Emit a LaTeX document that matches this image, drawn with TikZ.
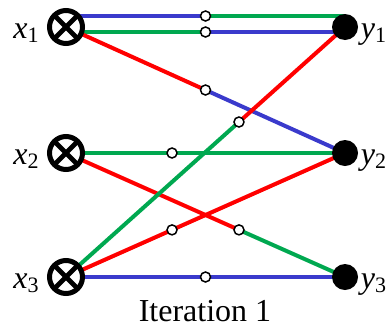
\documentclass[tikz,border=0pt]{standalone}
\usepackage{fontspec}
\setmainfont{Liberation Serif}
\usetikzlibrary{calc,backgrounds}

\definecolor{wblue}{RGB}{58,58,204}
\definecolor{wgreen}{RGB}{0,168,80}
\definecolor{wred}{RGB}{255,0,0}

\newcommand{\var}[2]{\textit{#1}\raisebox{-2pt}{\fontsize{11}{11}\selectfont #2}}

% two-coloured link: from, to, tap position, colour on each side, tap name
\newcommand{\tapedge}[6]{%
  \path (#1) -- (#2) coordinate[pos=#3] (#6);
  \begin{scope}[on background layer]
    \draw[link,#4] (#1) -- (#6);
    \draw[link,#5] (#6) -- (#2);
  \end{scope}
  \node[tap] (t#6) at (#6) {};
}

\begin{document}
\begin{tikzpicture}[x=0.5pt,y=-0.5pt,
    link/.style={line width=2pt},
    mix/.style={circle,draw,fill=white,line width=2.5pt,minimum size=16.5pt,
      inner sep=0pt,path picture={
        \draw[line width=2.4pt]
          (path picture bounding box.north west) -- (path picture bounding box.south east)
          (path picture bounding box.north east) -- (path picture bounding box.south west);}},
    sink/.style={circle,fill=black,minimum size=13pt,inner sep=0pt},
    tap/.style={circle,draw,fill=white,line width=0.75pt,minimum size=5pt,inner sep=0pt},
    lab/.style={inner sep=0pt,font=\fontsize{16}{16}\selectfont}]
      \useasboundingbox (0,0) rectangle (389,327);

      \node[mix] (x1) at ( 66,  27) {};
      \node[mix] (x2) at ( 66, 153) {};
      \node[mix] (x3) at ( 66, 277) {};
      \node[sink] (y1) at (345,  27) {};
      \node[sink] (y2) at (345, 153) {};
      \node[sink] (y3) at (345, 277) {};

      \node[lab,anchor=base east] (lx1) at ([xshift=-4pt,yshift=-5.5pt]x1.west) {\var{x}{1}};
      \node[lab,anchor=base east] (lx2) at ([xshift=-4pt,yshift=-5.5pt]x2.west) {\var{x}{2}};
      \node[lab,anchor=base east] (lx3) at ([xshift=-4pt,yshift=-5.5pt]x3.west) {\var{x}{3}};
      \node[lab,anchor=base west] (ly1) at ([xshift=1pt,yshift=-5.5pt]y1.east) {\var{y}{1}};
      \node[lab,anchor=base west] (ly2) at ([xshift=1pt,yshift=-5.5pt]y2.east) {\var{y}{2}};
      \node[lab,anchor=base west] (ly3) at ([xshift=1pt,yshift=-5.5pt]y3.east) {\var{y}{3}};

      \node[lab,anchor=base] (iter) at (205,321) {Iteration 1};

      \tapedge{[yshift=5.5pt]x1.center}{[yshift=5.5pt]y1.center}{.5}{wblue}{wgreen}{m1}
      \tapedge{[yshift=-2.5pt]x1.center}{[yshift=-2.5pt]y1.center}{.5}{wgreen}{wblue}{m2}
      \tapedge{x1.center}{y2.center}{.5}{wred}{wblue}{m3}
      \tapedge{x2.center}{y2.center}{.38}{wgreen}{wgreen}{m4}
      \tapedge{x2.center}{y3.center}{.62}{wred}{wgreen}{m5}
      \tapedge{x3.center}{y1.center}{.62}{wgreen}{wred}{m6}
      \tapedge{x3.center}{y2.center}{.38}{wred}{wred}{m7}
      \tapedge{x3.center}{y3.center}{.5}{wblue}{wblue}{m8}
\end{tikzpicture}
\end{document}
